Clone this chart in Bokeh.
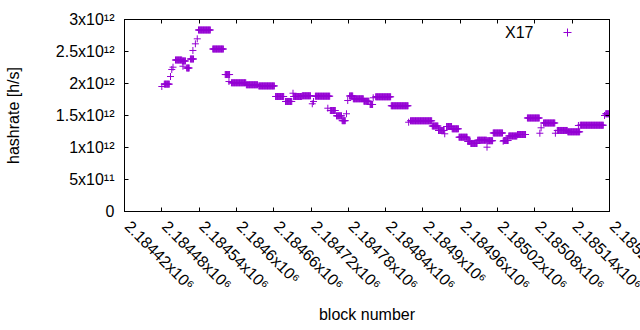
import numpy as np
from bokeh.plotting import figure
from bokeh.models import (Range1d, FixedTicker, LinearAxis, Legend, LegendItem,
                          Label, ColumnDataSource, CustomJSTickFormatter)
from bokeh.embed import file_html
from bokeh.resources import INLINE

# runs of consecutive blocks sharing the same hashrate estimate
run_first_block = [2184480, 2184484, 2184494, 2184496, 2184498, 2184502, 2184513, 2184514,
                   2184520, 2184526, 2184530, 2184534, 2184537, 2184539, 2184562, 2184582,
                   2184588, 2184592, 2184616, 2184636, 2184663, 2184679, 2184691, 2184692,
                   2184706, 2184722, 2184724, 2184727, 2184747, 2184751, 2184761, 2184770,
                   2184777, 2184779, 2184782, 2184788, 2184805, 2184815, 2184820, 2184824,
                   2184849, 2184877, 2184880, 2184915, 2184925, 2184935, 2184938, 2184947,
                   2184958, 2184972, 2184977, 2184988, 2185003, 2185004, 2185013, 2185029,
                   2185030, 2185038, 2185052, 2185068, 2185088, 2185090, 2185094, 2185113,
                   2185116, 2185133, 2185150, 2185153, 2185192, 2185194]
run_last_block = [2184480, 2184492, 2184494, 2184496, 2184498, 2184512, 2184518, 2184514,
                  2184524, 2184531, 2184530, 2184534, 2184537, 2184558, 2184579, 2184589,
                  2184588, 2184615, 2184634, 2184661, 2184676, 2184689, 2184691, 2184705,
                  2184719, 2184722, 2184724, 2184750, 2184747, 2184759, 2184769, 2184775,
                  2184777, 2184779, 2184787, 2184804, 2184813, 2184819, 2184820, 2184848,
                  2184876, 2184877, 2184914, 2184924, 2184934, 2184935, 2184946, 2184957,
                  2184971, 2184976, 2184987, 2185002, 2185003, 2185012, 2185028, 2185029,
                  2185037, 2185051, 2185065, 2185087, 2185088, 2185090, 2185112, 2185113,
                  2185132, 2185152, 2185150, 2185190, 2185192, 2185199]
run_hashrate = [1.953e12, 1.990e12, 2.109e12, 2.219e12, 2.255e12, 2.367e12, 2.352e12, 2.270e12,
                2.242e12, 2.383e12, 2.516e12, 2.620e12, 2.698e12, 2.836e12, 2.539e12, 2.140e12,
                2.031e12, 2.011e12, 1.980e12, 1.962e12, 1.797e12, 1.719e12, 1.848e12, 1.797e12,
                1.808e12, 1.683e12, 1.719e12, 1.802e12, 1.614e12, 1.578e12, 1.495e12, 1.419e12,
                1.527e12, 1.734e12, 1.805e12, 1.761e12, 1.723e12, 1.672e12, 1.777e12, 1.792e12,
                1.652e12, 1.395e12, 1.417e12, 1.336e12, 1.266e12, 1.214e12, 1.328e12, 1.292e12,
                1.161e12, 1.094e12, 1.063e12, 1.114e12, 1.005e12, 1.106e12, 1.227e12, 1.098e12,
                1.109e12, 1.180e12, 1.203e12, 1.461e12, 1.223e12, 1.308e12, 1.383e12, 1.223e12,
                1.266e12, 1.245e12, 1.344e12, 1.348e12, 1.500e12, 1.527e12]

series_name = "X17"

x_ticks = [2184420, 2184480, 2184540, 2184600, 2184660, 2184720, 2184780,
           2184840, 2184900, 2184960, 2185020, 2185080, 2185140, 2185200]
x_tick_labels = ["2.18442x10⁶", "2.18448x10⁶", "2.18454x10⁶", "2.1846x10⁶",
                 "2.18466x10⁶", "2.18472x10⁶", "2.18478x10⁶", "2.18484x10⁶",
                 "2.1849x10⁶", "2.18496x10⁶", "2.18502x10⁶", "2.18508x10⁶",
                 "2.18514x10⁶", "2.1852x10⁶"]
y_ticks = [0, 5e11, 1e12, 1.5e12, 2e12, 2.5e12, 3e12]
y_tick_labels = ["0", "5x10¹¹", "1x10¹²", "1.5x10¹²", "2x10¹²", "2.5x10¹²", "3x10¹²"]

# build the per-block table from the runs
xs, ys = [], []
for a, b, v in zip(run_first_block, run_last_block, run_hashrate):
    for blk in range(a, b + 1):
        xs.append(blk)
        ys.append(v)
src = ColumnDataSource(dict(x=xs, y=ys))

FONT = "Liberation Sans"
FS = "16px"
COLOR = "#9400D3"
PAD = "\u00a0"  # small lead-in so each slanted label starts at its tick

p = figure(width=640, height=330, output_backend="svg", toolbar_location=None,
           x_range=Range1d(x_ticks[0], x_ticks[-1]), y_range=Range1d(y_ticks[0], y_ticks[-1]),
           min_border_left=124, min_border_right=31, min_border_top=19, min_border_bottom=119)
p.xgrid.visible = False
p.ygrid.visible = False
p.outline_line_color = "black"
p.outline_line_alpha = 1
p.outline_line_width = 1
p.background_fill_color = "white"
p.border_fill_color = "white"

def style_axis(ax, ticks):
    ax.ticker = FixedTicker(ticks=ticks)
    ax.major_tick_in = 4
    ax.major_tick_out = 0
    ax.minor_tick_line_color = None
    ax.axis_line_color = "black"
    ax.major_tick_line_color = "black"
    ax.major_label_text_font = FONT
    ax.major_label_text_font_size = FS
    ax.major_label_text_color = "black"
    ax.axis_label_text_font = FONT
    ax.axis_label_text_font_size = FS
    ax.axis_label_text_font_style = "normal"
    ax.axis_label_text_color = "black"

blank = "return ''"

# bottom axis: the tick list repeats the first tick at its end with an empty label,
# so Bokeh keeps the right-most slanted label at its tick (cut by the page edge,
# as in the original) instead of sliding it back inside the canvas.
xa = p.xaxis[0]
style_axis(xa, x_ticks + x_ticks[:1])
xa.formatter = CustomJSTickFormatter(
    args=dict(labels=x_tick_labels, pad=PAD),
    code="return index < labels.length ? pad + labels[index] : '';")
xa.major_label_orientation = -np.pi / 4
xa.major_label_standoff = 9
xa.axis_label = "block number"
xa.axis_label_standoff = 4

ya = p.yaxis[0]
style_axis(ya, y_ticks)
ya.major_label_overrides = {t: s for t, s in zip(y_ticks, y_tick_labels)}
ya.major_label_standoff = 10
ya.axis_label = "hashrate [h/s]"
ya.axis_label_standoff = 31

top = LinearAxis()
style_axis(top, x_ticks)
top.formatter = CustomJSTickFormatter(code=blank)
top.major_label_standoff = 0
p.add_layout(top, "above")
right = LinearAxis()
style_axis(right, y_ticks)
right.formatter = CustomJSTickFormatter(code=blank)
right.major_label_standoff = 0
p.add_layout(right, "right")

r = p.scatter(x="x", y="y", source=src, marker="cross", size=7,
              line_color=COLOR, line_width=1)

legend = Legend(items=[LegendItem(label=" ", renderers=[r])], location=(433, 169),
                padding=0, margin=0, spacing=0, glyph_width=20, glyph_height=20,
                label_standoff=0, label_width=0, label_height=20,
                border_line_alpha=0, background_fill_alpha=0,
                label_text_font=FONT, label_text_font_size=FS)
p.add_layout(legend)
p.add_layout(Label(x=409, y=179, x_units="screen", y_units="screen", text=series_name,
                   text_align="right", text_baseline="middle", text_font=FONT,
                   text_font_size=FS, text_color="black"))

open("out.html", "w").write(file_html(p, INLINE))
